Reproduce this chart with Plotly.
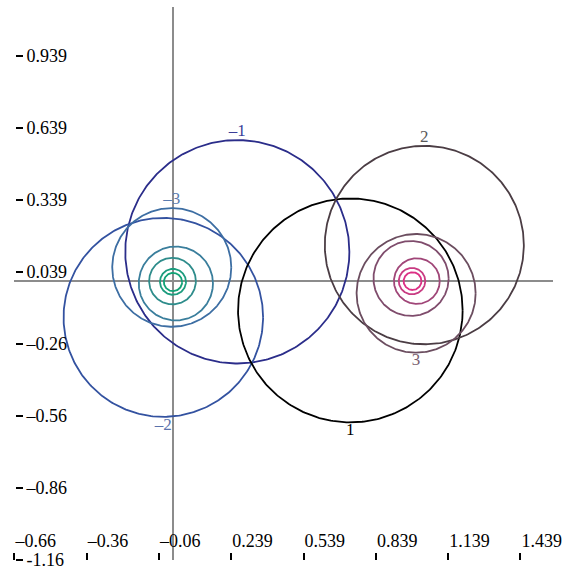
import numpy as np
import plotly.graph_objects as go

# ---- data ----
levels = [-1, -2, -3, -4, -5, -6, -7, 1, 2, 3, 4, 5, 6, 7]
centre_x = [0.265, -0.042, -0.007, 0.010, -0.004, -0.002, -0.002,
            0.734, 1.041, 1.007, 0.986, 1.010, 0.990, 0.992]
centre_y = [0.123, -0.150, 0.058, -0.009, 0.001, -0.002, -0.003,
            -0.121, 0.151, -0.050, 0.012, 0.001, 0.001, 0.001]
radius = [0.465, 0.414, 0.247, 0.154, 0.097, 0.054, 0.038,
          0.466, 0.413, 0.247, 0.156, 0.095, 0.055, 0.037]
circle_colors = ["#2b2d8a", "#3352a0", "#3d6ea3", "#3a7e9c", "#2e8c8b", "#1c9c7e", "#12a276",
                 "#000000", "#4b3d44", "#6b4d5f", "#7f4c6c", "#a04678", "#c83b82", "#dc2f85"]

label_levels = [-1, -2, -3, 1, 2, 3]
label_text = ["\u20131", "\u20132", "\u20133", "1", "2", "3"]
label_colors = ["#3b3d98", "#5a72ac", "#5a7cb0", "#000000", "#5a5a5a", "#7a6070"]

xtick_vals = [-0.66, -0.36, -0.06, 0.24, 0.54, 0.84, 1.14, 1.44]
xtick_text = ["\u20130.66", "\u20130.36", "\u20130.06", "0.239", "0.539", "0.839", "1.139", "1.439"]
ytick_vals = [-1.16, -0.86, -0.56, -0.26, 0.04, 0.34, 0.64, 0.94]
ytick_text = ["-1.16", "\u20130.86", "\u20130.56", "\u20130.26", "0.039", "0.339", "0.639", "0.939"]

x_range = [-0.66, 1.575]
y_range = [-1.16, 1.142]

# ---- styles ----
W, H = 563, 576
FONT = "Liberation Serif, DejaVu Serif, Noto Serif, Times New Roman, serif"
label_above = {-1: True, -3: True, 2: True, -2: False, 1: False, 3: False}

fig = go.Figure()
theta = np.linspace(0, 2 * np.pi, 361)
for lv, cx, cy, r, col in zip(levels, centre_x, centre_y, radius, circle_colors):
    fig.add_trace(go.Scatter(
        x=cx + r * np.cos(theta), y=cy + r * np.sin(theta),
        mode="lines", line=dict(color=col, width=1.8),
        hoverinfo="skip", showlegend=False))

for lv, txt, col in zip(label_levels, label_text, label_colors):
    i = levels.index(lv)
    above = label_above[lv]
    yy = centre_y[i] + radius[i] if above else centre_y[i] - radius[i]
    fig.add_trace(go.Scatter(
        x=[centre_x[i]], y=[yy], mode="text", text=[txt],
        textposition="top center" if above else "bottom center",
        textfont=dict(family=FONT, size=17, color=col),
        hoverinfo="skip", showlegend=False))

# invisible trace to create the tick axes
fig.add_trace(go.Scatter(x=[xtick_vals[0]], y=[ytick_vals[0]], xaxis="x2", yaxis="y2",
                         mode="markers", marker=dict(opacity=0), hoverinfo="skip",
                         showlegend=False))

x_dom = [14.4 / W, 553 / W]
y_dom = [1 - 560 / H, 1 - 7 / H]
tickfont = dict(family=FONT, size=18, color="black")

fig.update_layout(
    width=W, height=H,
    margin=dict(l=0, r=0, t=0, b=0, pad=0),
    paper_bgcolor="white", plot_bgcolor="white",
    showlegend=False,
    xaxis=dict(domain=x_dom, range=x_range, showgrid=False, showticklabels=False,
               ticks="", showline=False, zeroline=True, zerolinecolor="#8c8c8c",
               zerolinewidth=1.8, automargin=False),
    yaxis=dict(domain=y_dom, range=y_range, showgrid=False, showticklabels=False,
               ticks="", showline=False, zeroline=True, zerolinecolor="#8c8c8c",
               zerolinewidth=1.8, automargin=False),
    xaxis2=dict(overlaying="x", side="top", anchor="free", position=1 - 560 / H,
                range=x_range, tickmode="array", tickvals=xtick_vals, ticktext=xtick_text,
                ticks="outside", ticklen=7, tickwidth=2, tickcolor="black",
                ticklabelposition="outside right", ticklabelstandoff=6, tickfont=tickfont,
                showgrid=False, zeroline=False, showline=False, automargin=False),
    yaxis2=dict(overlaying="y", side="right", anchor="free", position=15 / W,
                range=y_range, tickmode="array", tickvals=ytick_vals, ticktext=ytick_text,
                ticks="outside", ticklen=7, tickwidth=2, tickcolor="black",
                tickfont=tickfont, showgrid=False, zeroline=False, showline=False,
                automargin=False),
)

fig.write_html(
    "out.html",
    config={"displayModeBar": False, "responsive": False},
    post_script=("document.documentElement.style.overflow='hidden';"
                 "document.body.style.overflow='hidden';"
                 "document.body.style.margin='0';document.body.style.padding='0';"),
)
